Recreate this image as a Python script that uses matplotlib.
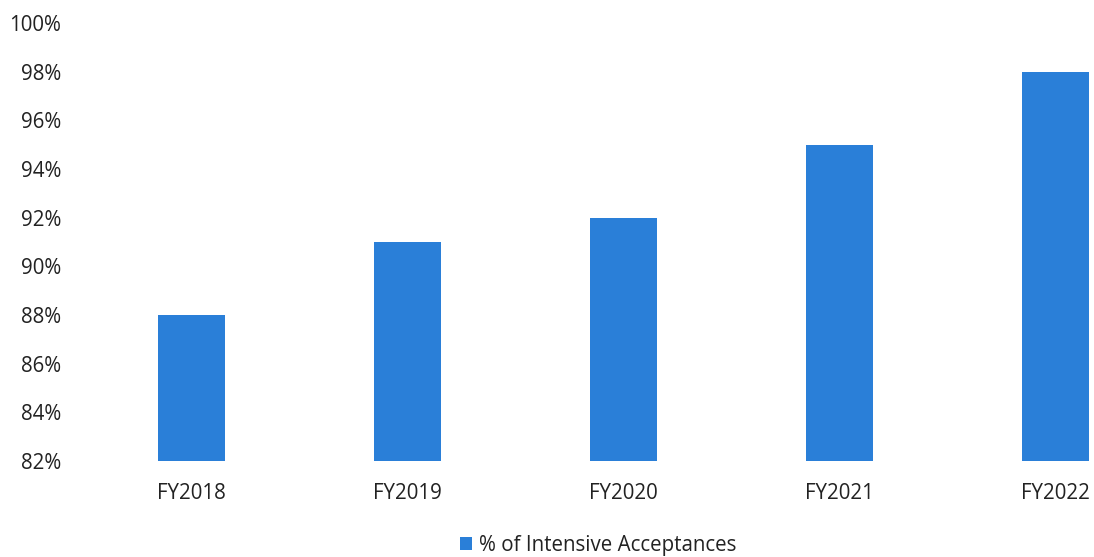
import matplotlib
matplotlib.use("Agg")
import matplotlib.pyplot as plt
from matplotlib.ticker import FuncFormatter

years = ["FY2018", "FY2019", "FY2020", "FY2021", "FY2022"]
pct = [88, 91, 92, 95, 98]
yticks = list(range(82, 101, 2))

plt.rcParams['font.family'] = ['Open Sans', 'DejaVu Sans']

fig = plt.figure(figsize=(10.94, 5.57), dpi=100)
# axes run a little past the right edge, like the cropped original
ax = fig.add_axes([83 / 1094, 1 - 461 / 557, 1081 / 1094, 438 / 557])

x = list(range(len(years)))
bars = ax.bar(x, pct, width=0.31, bottom=0, color="#2a7fd8",
              label="% of Intensive Acceptances")

ax.set_ylim(82, 100)
ax.set_xlim(-0.5, 4.5)
ax.set_yticks(yticks)
ax.yaxis.set_major_formatter(FuncFormatter(lambda v, p: "%d%%" % v))
ax.set_xticks(x)
ax.set_xticklabels(years)
ax.tick_params(axis="both", length=0, labelsize=14.8, colors="#222222")
ax.tick_params(axis="y", pad=15.5)
ax.tick_params(axis="x", pad=16)
for s in ax.spines.values():
    s.set_visible(False)

fig.legend(handles=[bars], labels=["% of Intensive Acceptances"],
           loc="center", bbox_to_anchor=(598 / 1094, 1 - 545 / 557),
           frameon=False, fontsize=14.8, handlelength=0.6, handleheight=0.6,
           handletextpad=0.3, labelcolor="#222222")

fig.savefig("out.png", dpi=100)
